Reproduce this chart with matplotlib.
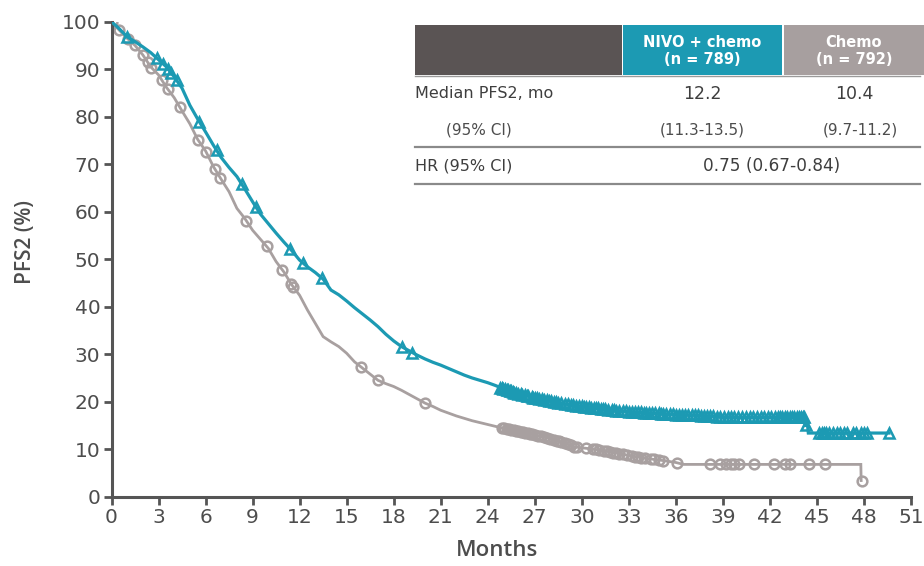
import numpy as np
import matplotlib
matplotlib.use("Agg")
import matplotlib.pyplot as plt
from matplotlib.patches import Rectangle

plt.rcParams['font.family'] = ['Open Sans', 'DejaVu Sans']

# ---- Kaplan-Meier estimates (months, PFS2 %) ----
nivo_t = [0, 0.5, 1, 1.5, 2, 2.5, 3, 3.5, 4, 4.5, 5, 5.5, 6, 6.5, 7, 7.5, 8, 8.5,
          9, 9.5, 10, 10.5, 11, 11.5, 12, 12.5, 13, 13.5, 14, 14.5, 15, 15.5, 16,
          16.5, 17, 17.5, 18, 18.5, 19, 19.5, 20, 20.5, 21, 21.5, 22, 22.5, 23,
          23.5, 24, 24.5, 25, 26, 27, 28, 29, 30, 31, 32, 33, 34, 35, 36, 37, 38,
          39, 40, 44.2, 44.25, 44.4, 44.45, 44.7, 49.6]
nivo_s = [100, 98.5, 96.8, 95.8, 94.7, 93.5, 92.0, 90.5, 88.4, 86.0, 82.4, 79.5,
          76.8, 74.0, 71.4, 69.3, 67.4, 64.8, 62.1, 59.5, 57.5, 55.5, 53.6, 51.8,
          49.8, 48.4, 47.2, 45.8, 43.5, 42.5, 41.2, 39.8, 38.5, 37.2, 35.8, 34.2,
          32.8, 31.6, 30.7, 29.8, 29.0, 28.3, 27.7, 27.0, 26.3, 25.6, 25.0, 24.5,
          24.0, 23.4, 22.7, 21.6, 20.8, 20.1, 19.5, 19.0, 18.6, 18.2, 17.9, 17.7,
          17.5, 17.3, 17.2, 17.0, 16.8, 16.7, 16.7, 15.0, 15.0, 13.4, 13.4, 13.4]

chemo_t = [0, 0.5, 1, 1.5, 2, 2.5, 3, 3.5, 4, 4.5, 5, 5.5, 6, 6.5, 7, 7.5, 8, 8.5,
           9, 9.5, 10, 10.5, 11, 11.5, 12, 12.5, 13, 13.5, 14, 14.5, 15, 15.5, 16,
           16.5, 17, 17.5, 18, 18.5, 19, 19.5, 20, 20.5, 21, 21.5, 22, 22.5, 23,
           23.5, 24, 24.5, 25, 26, 27, 28, 29, 29.5, 30, 31, 32, 33, 34, 35, 36,
           36.5, 47.8, 47.82]
chemo_s = [100, 98.2, 96.5, 95.0, 93.0, 90.5, 88.8, 86.2, 84.0, 81.2, 78.5, 75.2,
           72.8, 69.5, 66.8, 64.2, 60.7, 58.6, 56.1, 54.2, 52.3, 49.5, 47.3, 44.6,
           42.4, 39.3, 36.5, 33.7, 32.6, 31.6, 30.2, 28.4, 27.1, 25.8, 24.5, 23.8,
           23.2, 22.4, 21.5, 20.6, 19.7, 19.0, 18.2, 17.6, 17.0, 16.5, 16.0, 15.6,
           15.2, 14.8, 14.4, 13.8, 13.0, 12.2, 11.2, 10.5, 10.3, 9.9, 9.3, 8.7,
           8.1, 7.7, 7.2, 6.8, 6.8, 3.4]

# ---- censoring times (months) ----
nivo_cens = [1.0, 2.9, 3.3, 3.6, 3.8, 4.15, 5.6, 6.7, 8.3, 9.2, 11.4, 12.2, 13.4,
             18.5, 19.2,
             24.8, 24.9, 25.0, 25.1, 25.2, 25.3, 25.4, 25.5, 25.6, 25.7, 25.8,
             25.95, 26.1, 26.2, 26.35, 26.5, 26.6, 26.8, 26.9, 27.0, 27.15, 27.3,
             27.45, 27.6, 27.75, 27.9, 28.05, 28.2, 28.35, 28.5, 28.7, 28.9, 29.1,
             29.3, 29.45, 29.6, 29.8, 30.0, 30.15, 30.3, 30.45, 30.6, 30.75, 30.9,
             31.05, 31.2, 31.35, 31.5, 31.7, 31.9, 32.05, 32.2, 32.4, 32.6, 32.8,
             33.0, 33.2, 33.4, 33.6, 33.8, 33.95, 34.1, 34.3, 34.5, 34.7, 34.9,
             35.05, 35.2, 35.4, 35.6, 35.8, 36.0, 36.2, 36.4, 36.6, 36.8, 37.0,
             37.2, 37.4, 37.6, 37.8, 38.0, 38.2, 38.4, 38.6, 38.8, 39.05, 39.3,
             39.5, 39.7, 39.95, 40.2, 40.45, 40.7, 40.95, 41.2, 41.4, 41.6, 41.85,
             42.1, 42.3, 42.5, 42.65, 42.8, 42.95, 43.1, 43.25, 43.4, 43.55, 43.7,
             43.85, 44.0, 44.1, 44.2, 44.3, 45.1, 45.3, 45.45, 45.6, 45.75, 46.0,
             46.3, 46.5, 46.7, 46.9, 47.3, 47.5, 47.8, 48.0, 48.2, 49.6]
chemo_cens = [0.0, 0.5, 1.05, 1.5, 2.0, 2.3, 2.55, 3.2, 3.6, 4.35, 5.5, 6.05, 6.6,
              6.95, 8.6, 9.9, 10.9, 11.45, 11.6, 15.9, 17.0, 20.0,
              24.9, 25.05, 25.2, 25.35, 25.5, 25.65, 25.8, 25.95, 26.1, 26.25,
              26.4, 26.55, 26.7, 26.85, 27.0, 27.2, 27.4, 27.6, 27.8, 28.0, 28.2,
              28.4, 28.55, 28.7, 28.9, 29.1, 29.3, 29.5, 29.7, 30.3, 30.7, 30.9,
              31.1, 31.4, 31.6, 31.8, 32.0, 32.2, 32.4, 32.6, 32.9, 33.2, 33.4,
              33.6, 33.8, 34.0, 34.4, 34.6, 34.9, 35.2, 36.05, 38.2, 38.8, 39.2,
              39.5, 39.7, 40.05, 41.0, 42.25, 42.95, 43.3, 44.5, 45.5, 47.85]

x_ticks = list(range(0, 52, 3))
y_ticks = list(range(0, 101, 10))

TEAL = '#1c9ab3'
GREY = '#a8a0a0'
TEXT = '#4d4d4d'
DARK = '#3e3e3e'
AXC = '#555555'

# pixel geometry of the plotting area
X0, X1, Y0, Y1 = 111.5, 911.0, 496.7, 21.7
W, H = 924.0, 566.0


def curve_value(times, surv, t):
    return float(np.interp(t, times, surv))


fig = plt.figure(figsize=(9.24, 5.66), dpi=100)
ax = fig.add_axes([X0 / W, 1 - Y0 / H, (X1 - X0) / W, (Y0 - Y1) / H])

ax.plot(chemo_t, chemo_s, color=GREY, lw=2.0, zorder=2, solid_joinstyle='miter')
ax.plot(nivo_t, nivo_s, color=TEAL, lw=2.3, zorder=3, solid_joinstyle='miter')

cy = [curve_value(chemo_t, chemo_s, t) for t in chemo_cens]
ax.plot(chemo_cens, cy, ls='none', marker='o', ms=7, mfc='none', mec=GREY,
        mew=1.8, zorder=2)
ny = [curve_value(nivo_t, nivo_s, t) for t in nivo_cens]
ax.plot(nivo_cens, ny, ls='none', marker='^', ms=6.5, mfc='none', mec=TEAL,
        mew=1.8, zorder=3)

ax.set_xlim(0, 51)
ax.set_ylim(0, 100)
ax.set_xticks(x_ticks)
ax.set_yticks(y_ticks)
for s in ['top', 'right']:
    ax.spines[s].set_visible(False)
for s in ['left', 'bottom']:
    ax.spines[s].set_color(AXC)
    ax.spines[s].set_linewidth(2.2)
ax.tick_params(axis='both', colors=AXC, width=2, length=6, labelsize=14.5,
               labelcolor=TEXT, pad=2)
for lab in ax.get_xticklabels() + ax.get_yticklabels():
    lab.set_family(['DejaVu Sans'])
ax.set_xlabel('Months', fontsize=16, color=TEXT, fontweight='semibold')
ax.set_ylabel('PFS2 (%)', fontsize=15, color=TEXT, fontweight='semibold')
ax.xaxis.label.set_va('center')
ax.yaxis.label.set_va('center')
ax.xaxis.set_label_coords((497 - X0) / (X1 - X0), -(550 - Y0) / (Y0 - Y1))
ax.yaxis.set_label_coords(-(X0 - 25) / (X1 - X0), (Y0 - 242) / (Y0 - Y1))

# ---- summary table in pixel coordinates ----
tab = fig.add_axes([0, 0, 1, 1], facecolor='none')
tab.set_xlim(0, W)
tab.set_ylim(H, 0)
tab.axis('off')

tab.add_patch(Rectangle((415, 25), 207, 50, color='#5a5454', lw=0))
tab.add_patch(Rectangle((623, 25), 159, 50, color=TEAL, lw=0))
tab.add_patch(Rectangle((784, 25), 140, 50, color='#a79f9f', lw=0))
tab.plot([415, 920], [75.5, 75.5], color='#9a9a9a', lw=1.0)
tab.plot([415, 920], [147, 147], color='#8a8a8a', lw=1.6)
tab.plot([415, 920], [184, 184], color='#8a8a8a', lw=1.6)

TF = ['DejaVu Sans']
col1, col2 = 702, 854
tab.text(col1, 51, 'NIVO + chemo\n(n = 789)', color='white', fontsize=10.5,
         family=TF, fontweight='bold', ha='center', va='center', linespacing=1.2)
tab.text(col2, 51, 'Chemo\n(n = 792)', color='white', fontsize=10.5,
         family=TF, fontweight='bold', ha='center', va='center', linespacing=1.2)

tab.text(415, 94, 'Median PFS2, mo', color=DARK, fontsize=11.5, family=TF,
         ha='left', va='center')
tab.text(col1, 94, '12.2', color=DARK, fontsize=12.5, family=TF,
         ha='center', va='center')
tab.text(col2, 94, '10.4', color=DARK, fontsize=12.5, family=TF,
         ha='center', va='center')
tab.text(479, 130, '(95% CI)', color=TEXT, fontsize=11, family=TF,
         ha='center', va='center')
tab.text(col1, 130, '(11.3-13.5)', color=TEXT, fontsize=11, family=TF,
         ha='center', va='center')
tab.text(col2 + 6, 130, '(9.7-11.2)', color=TEXT, fontsize=11, family=TF,
         ha='center', va='center')
tab.text(415, 166, 'HR (95% CI)', color=DARK, fontsize=11.5, family=TF,
         ha='left', va='center')
tab.text(772, 166, '0.75 (0.67-0.84)', color=DARK, fontsize=12.2, family=TF,
         ha='center', va='center')

fig.savefig('out.png', dpi=100)
